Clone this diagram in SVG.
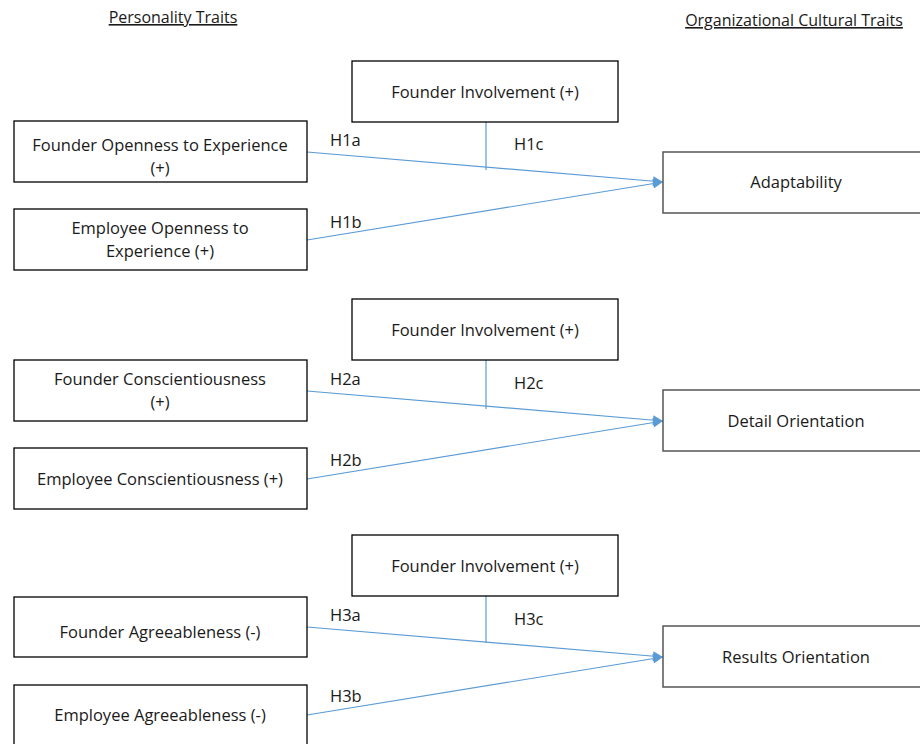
<svg xmlns="http://www.w3.org/2000/svg" width="920" height="744" viewBox="0 0 920 744">
<style>
text{font-family:"Open Sans","Liberation Sans",sans-serif;font-size:16.5px;fill:#1a1a1a;}
.c{text-anchor:middle;}
.hdr{font-size:16px;text-decoration:underline;}
.bx{fill:#fff;stroke:#000;stroke-width:1.3;}
.rb{fill:#fff;stroke:#555;stroke-width:1.5;}
.ln{stroke:#5B9BD5;stroke-width:1.2;fill:none;}
</style>
<defs>
<marker id="ar" viewBox="0 0 10 10" refX="10" refY="5" markerWidth="13" markerHeight="10" markerUnits="userSpaceOnUse" orient="auto">
<path d="M0,0 L10,5 L0,10 z" fill="#5B9BD5"/>
</marker>
</defs>
<g id="headers">
<text class="hdr c" x="173" y="23">Personality Traits</text>
<text class="hdr c" x="794" y="26">Organizational Cultural Traits</text>
</g>
<g id="connectors">
<path class="ln" d="M307,152 L663,182" marker-end="url(#ar)"/>
<path class="ln" d="M307,240 L663,182" marker-end="url(#ar)"/>
<path class="ln" d="M486,122 L486,170"/>
<path class="ln" d="M307,391 L663,421" marker-end="url(#ar)"/>
<path class="ln" d="M307,479 L663,421" marker-end="url(#ar)"/>
<path class="ln" d="M486,360 L486,409"/>
<path class="ln" d="M307,627 L663,657" marker-end="url(#ar)"/>
<path class="ln" d="M307,715 L663,657" marker-end="url(#ar)"/>
<path class="ln" d="M486,596 L486,643"/>
</g>
<g id="labels">
<text x="330" y="146">H1a</text>
<text x="330" y="228">H1b</text>
<text x="514" y="150">H1c</text>
<text x="330" y="385">H2a</text>
<text x="330" y="466">H2b</text>
<text x="514" y="389">H2c</text>
<text x="330" y="621">H3a</text>
<text x="330" y="702">H3b</text>
<text x="514" y="625">H3c</text>
</g>
<g id="n-fi1"><rect class="bx" x="352" y="61" width="266" height="61"/><text class="c" x="485" y="98">Founder Involvement (+)</text></g>
<g id="n-foe"><rect class="bx" x="14" y="121" width="293" height="61"/><text class="c" x="160" y="151">Founder Openness to Experience</text><text class="c" x="160" y="174">(+)</text></g>
<g id="n-eoe"><rect class="bx" x="14" y="209" width="293" height="61"/><text class="c" x="160" y="234">Employee Openness to</text><text class="c" x="160" y="257">Experience (+)</text></g>
<g id="n-adapt"><rect class="rb" x="663" y="152" width="270" height="61"/><text class="c" x="796" y="188">Adaptability</text></g>
<g id="n-fi2"><rect class="bx" x="352" y="299" width="266" height="61"/><text class="c" x="485" y="336">Founder Involvement (+)</text></g>
<g id="n-fc"><rect class="bx" x="14" y="360" width="293" height="61"/><text class="c" x="160" y="385">Founder Conscientiousness</text><text class="c" x="160" y="408">(+)</text></g>
<g id="n-ec"><rect class="bx" x="14" y="448" width="293" height="61"/><text class="c" x="160" y="485">Employee Conscientiousness (+)</text></g>
<g id="n-detail"><rect class="rb" x="663" y="390" width="270" height="61"/><text class="c" x="796" y="427">Detail Orientation</text></g>
<g id="n-fi3"><rect class="bx" x="352" y="535" width="266" height="61"/><text class="c" x="485" y="572">Founder Involvement (+)</text></g>
<g id="n-fa"><rect class="bx" x="14" y="597" width="293" height="60"/><text class="c" x="160" y="638">Founder Agreeableness (-)</text></g>
<g id="n-ea"><rect class="bx" x="14" y="685" width="293" height="70"/><text class="c" x="160" y="721">Employee Agreeableness (-)</text></g>
<g id="n-results"><rect class="rb" x="663" y="626" width="270" height="61"/><text class="c" x="796" y="663">Results Orientation</text></g>
</svg>
